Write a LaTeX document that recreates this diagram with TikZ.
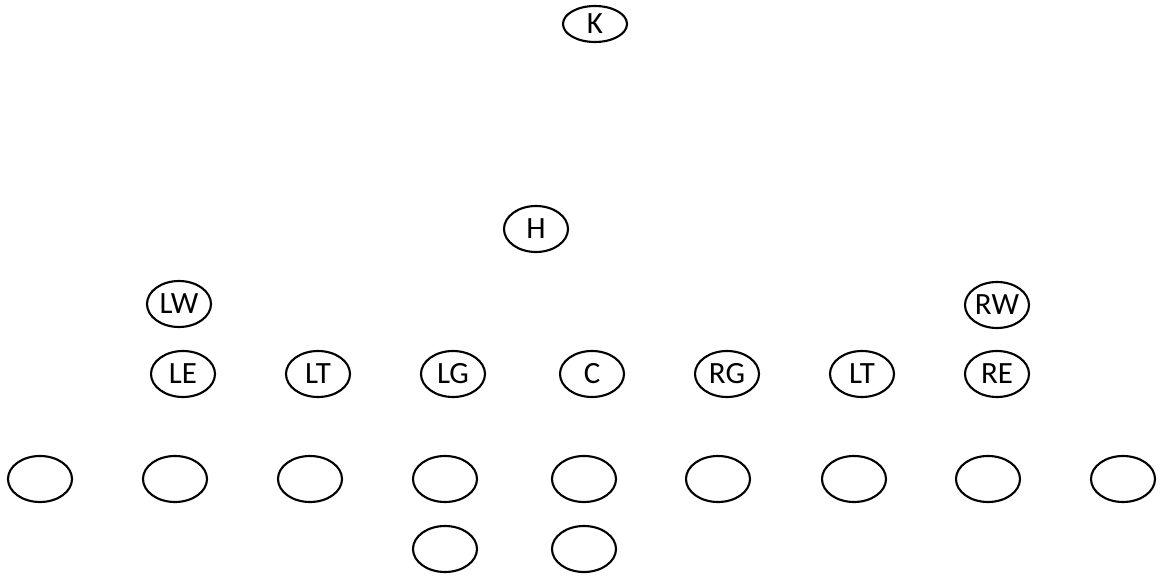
\documentclass[tikz,border=0pt]{standalone}
\usepackage{fontspec}
\setmainfont{Carlito}
\usetikzlibrary{shapes.geometric}
\tikzset{
  every picture/.style={line width=1.5pt},
  spot/.style={draw=black, ellipse, inner sep=0pt, minimum width=1.6cm, minimum height=1.15cm, font=\fontsize{22}{26}\selectfont},
  kick/.style={spot, minimum height=0.9cm},
}
\begin{document}
\begin{tikzpicture}[x=0.025cm, y=-0.025cm]
  \useasboundingbox (0,0) rectangle (1160,578);
  \node[kick] (k) at (595,24) {K};
  \node[spot] (h) at (536,229) {H};
  \node[spot] (lw) at (179,304) {LW};
  \node[spot] (rw) at (997,305) {RW};
  \foreach \t/\x [count=\i] in {LE/183, LT/318, LG/453, C/592, RG/727, LT/862, RE/997} {
    \node[spot] (l\i) at (\x,374) {\t};
  }
  \foreach \x [count=\i] in {40, 175, 310, 445, 584, 718, 854, 988, 1123} {
    \node[spot] (d\i) at (\x,479) {};
  }
  \node[spot] (s1) at (445,549) {};
  \node[spot] (s2) at (584,549) {};
\end{tikzpicture}
\end{document}
